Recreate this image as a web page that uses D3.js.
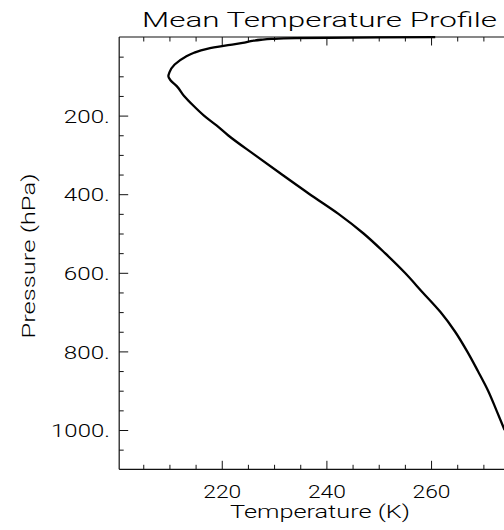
<!DOCTYPE html>
<html>
<head>
<meta charset="utf-8">
<script src="https://cdn.jsdelivr.net/npm/d3@7"></script>
<style>
  html, body { margin: 0; padding: 0; background: #fff; }
  svg { display: block; }
  text { font-family: Roboto, "DejaVu Sans", sans-serif; font-weight: 300; fill: #000; }
</style>
</head>
<body>
<script>
// ---- data ----
const pressure = [0.3, 1, 2, 3, 5, 7, 10, 15, 20, 30, 40, 50, 70, 90, 100, 110, 125, 150, 175, 200,
                  225, 250, 300, 350, 400, 450, 500, 550, 600, 650, 700, 750, 800, 850, 900, 950, 1000];
const temperature = [260.8, 250, 240, 234, 229.5, 227.5, 225.8, 224.0, 221.6, 217.2, 214.7, 213.1, 211, 210, 209.8, 210.2, 211.4, 212.8, 214.6, 216.6,
                     219, 221.2, 226.3, 231.5, 236.8, 242.3, 247.1, 251.2, 255, 258.4, 261.8, 264.6, 266.9, 268.95, 270.9, 272.5, 274.05];
const xMajorTicks = [220, 240, 260];
const yMajorTicks = [200, 400, 600, 800, 1000];
const titleText = "Mean Temperature Profile";
const xTitle = "Temperature (K)";
const yTitle = "Pressure (hPa)";

// ---- layout ----
const W = 504, H = 530;
const xLo = 200.4, xHi = 280;
const x = d3.scaleLinear().domain([200, 280]).range([117.1, 535.7]);
const y = d3.scaleLinear().domain([0, 1100]).range([37, 469.3]);
const xMinorTicks = d3.range(205, 281, 5).filter(v => !xMajorTicks.includes(v) && v !== 280);
const yMinorTicks = d3.range(50, 1100, 50).filter(v => !yMajorTicks.includes(v));

const svg = d3.select("body").append("svg").attr("width", W).attr("height", H);
svg.append("rect").attr("width", W).attr("height", H).attr("fill", "#fff");

const axisColor = "#111";
const pLeft = x(xLo), pRight = x(xHi), pTop = y(0), pBottom = y(1100);

function styleAxis(g) {
  g.select(".domain").remove();
  g.selectAll(".tick line").attr("stroke", axisColor).attr("stroke-width", 1);
}

// bottom axis
svg.append("g").attr("transform", `translate(0,${pBottom})`)
  .call(d3.axisBottom(x).tickValues(xMinorTicks).tickSize(-4.5).tickFormat(""))
  .call(styleAxis);
const bx = svg.append("g").attr("transform", `translate(0,${pBottom})`)
  .call(d3.axisBottom(x).tickValues(xMajorTicks).tickSize(-8.5).tickFormat(d3.format("d")))
  .call(styleAxis);
bx.selectAll("text").attr("y", 28.7).attr("dy", 0).attr("font-size", 18.5)
  .attr("font-family", null).attr("fill", "#000")
  .attr("textLength", 38).attr("lengthAdjust", "spacingAndGlyphs");

// top axis
svg.append("g").attr("transform", `translate(0,${pTop})`)
  .call(d3.axisTop(x).tickValues(xMinorTicks).tickSize(-4.5).tickFormat(""))
  .call(styleAxis);
svg.append("g").attr("transform", `translate(0,${pTop})`)
  .call(d3.axisTop(x).tickValues(xMajorTicks).tickSize(-8.5).tickFormat(""))
  .call(styleAxis);

// left axis
svg.append("g").attr("transform", `translate(${pLeft},0)`)
  .call(d3.axisLeft(y).tickValues(yMinorTicks).tickSize(-4.5).tickFormat(""))
  .call(styleAxis);
const ly = svg.append("g").attr("transform", `translate(${pLeft},0)`)
  .call(d3.axisLeft(y).tickValues(yMajorTicks).tickSize(-9).tickFormat(d => d + "."))
  .call(styleAxis);
ly.selectAll("text").attr("x", -9.3).attr("dy", "0.36em").attr("font-size", 18.5)
  .attr("font-family", null).attr("fill", "#000")
  .attr("textLength", d => String(d).length * 12.7 + 8).attr("lengthAdjust", "spacingAndGlyphs");

// axis lines
svg.append("line").attr("x1", pLeft).attr("x2", pRight).attr("y1", pBottom).attr("y2", pBottom)
  .attr("stroke", axisColor).attr("stroke-width", 1.2);
svg.append("line").attr("x1", pLeft).attr("x2", pRight).attr("y1", pTop).attr("y2", pTop)
  .attr("stroke", axisColor).attr("stroke-width", 1.2);
svg.append("line").attr("x1", pLeft).attr("x2", pLeft).attr("y1", pTop).attr("y2", pBottom)
  .attr("stroke", axisColor).attr("stroke-width", 1.2);
svg.append("line").attr("x1", pRight).attr("x2", pRight).attr("y1", pTop).attr("y2", pBottom)
  .attr("stroke", axisColor).attr("stroke-width", 1.2);

// profile line
const pts = pressure.map((p, i) => ({ p, t: temperature[i] }));
const line = d3.line().x(d => x(d.t)).y(d => y(d.p)).curve(d3.curveMonotoneY);
svg.append("path").datum(pts).attr("d", line)
  .attr("fill", "none").attr("stroke", "#000").attr("stroke-width", 2.3)
  .attr("stroke-linejoin", "round");

// titles
svg.append("text").attr("x", 142).attr("y", 27).attr("font-size", 19.5)
  .attr("textLength", 355).attr("lengthAdjust", "spacingAndGlyphs").text(titleText);
svg.append("text").attr("x", 230).attr("y", 518).attr("font-size", 18.5)
  .attr("textLength", 180).attr("lengthAdjust", "spacingAndGlyphs").text(xTitle);
svg.append("text").attr("transform", "translate(35,256) rotate(-90)")
  .attr("text-anchor", "middle").attr("font-size", 18.5)
  .attr("textLength", 165).attr("lengthAdjust", "spacingAndGlyphs").text(yTitle);
</script>
</body>
</html>
